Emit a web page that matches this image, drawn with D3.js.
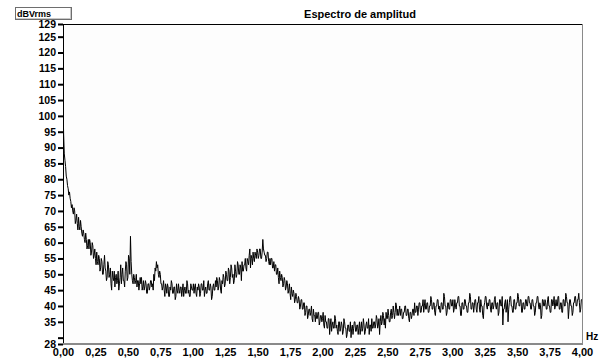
<!DOCTYPE html>
<html>
<head>
<meta charset="utf-8">
<script src="https://cdn.jsdelivr.net/npm/d3@7"></script>
<style>
  html, body { margin: 0; padding: 0; background: #ffffff; }
  svg { display: block; }
  text { font-family: "Liberation Sans", Arial, sans-serif; font-weight: bold; fill: #000; }
</style>
</head>
<body>
<svg id="chart" width="599" height="360"></svg>
<script>
// ---------------- data ----------------
const title = "Espectro de amplitud";
const yUnit = "dBVrms";
const xUnit = "Hz";
const freqStart = 0;
const freqStep = 0.005; // Hz between spectrum bins
const amplitude = [
  104, 94, 88, 86, 84, 81, 80, 78, 77, 75, 76, 74, 73, 71, 72, 70, 69, 71, 70, 66, 67, 69, 66, 64, 68, 65, 64, 67, 65, 63, 62, 64, 63, 61, 60, 63, 61, 58, 59, 61,
  58, 61, 60, 56, 57, 60, 59, 55, 56, 58, 55, 53, 57, 54, 53, 56, 55, 51, 52, 55, 54, 50, 50, 53, 56, 52, 51, 48, 49, 54, 53, 49, 50, 52, 47, 45, 51, 49, 48, 51,
  46, 49, 50, 47, 48, 51, 45, 47, 49, 53, 47, 50, 52, 48, 48, 46, 51, 54, 53, 48, 49, 56, 55, 50, 62, 54, 50, 48, 47, 50, 49, 47, 48, 50, 46, 48, 48, 45, 47, 49,
  47, 49, 45, 46, 48, 45, 46, 48, 47, 44, 44, 47, 47, 45, 46, 48, 48, 46, 47, 45, 50, 48, 52, 51, 54, 52, 53, 50, 49, 51, 50, 47, 47, 45, 46, 48, 45, 43, 47, 46,
  44, 47, 46, 43, 43, 46, 45, 48, 47, 44, 44, 46, 46, 42, 43, 47, 45, 44, 47, 45, 44, 46, 46, 43, 45, 47, 43, 45, 46, 44, 44, 48, 47, 44, 45, 43, 43, 47, 46, 45,
  45, 47, 44, 46, 47, 44, 43, 46, 45, 47, 46, 43, 44, 47, 47, 45, 45, 48, 43, 45, 46, 44, 44, 47, 48, 45, 45, 47, 46, 42, 43, 46, 47, 45, 45, 48, 46, 49, 48, 45,
  46, 49, 48, 45, 44, 48, 47, 50, 49, 46, 47, 51, 50, 48, 48, 52, 51, 47, 49, 53, 52, 49, 50, 47, 48, 53, 51, 49, 50, 54, 53, 50, 50, 53, 52, 48, 54, 51, 51, 53,
  53, 55, 52, 51, 55, 54, 53, 56, 58, 52, 56, 55, 53, 57, 55, 54, 57, 56, 55, 58, 57, 55, 56, 58, 58, 55, 55, 57, 61, 58, 57, 56, 56, 54, 55, 57, 57, 54, 53, 55,
  53, 55, 55, 52, 52, 54, 51, 53, 53, 50, 50, 52, 49, 47, 51, 49, 48, 50, 49, 46, 47, 49, 48, 45, 46, 48, 47, 44, 45, 47, 44, 42, 46, 44, 43, 45, 44, 41, 42, 44,
  43, 41, 41, 43, 42, 39, 40, 42, 42, 39, 39, 41, 41, 37, 38, 40, 40, 36, 37, 39, 39, 37, 38, 40, 36, 35, 39, 37, 37, 35, 38, 36, 36, 38, 38, 34, 35, 37, 37, 35,
  36, 38, 34, 33, 37, 35, 35, 33, 33, 36, 36, 31, 34, 36, 32, 34, 35, 33, 33, 37, 36, 33, 34, 32, 31, 35, 35, 32, 33, 35, 34, 31, 32, 36, 35, 33, 33, 30, 31, 34,
  34, 32, 32, 35, 30, 33, 34, 31, 33, 35, 35, 32, 32, 34, 34, 31, 33, 35, 31, 33, 35, 32, 33, 36, 34, 31, 32, 34, 35, 33, 33, 36, 31, 34, 34, 32, 36, 33, 33, 35,
  35, 33, 34, 37, 36, 33, 34, 36, 31, 35, 37, 34, 35, 38, 37, 34, 36, 33, 38, 36, 36, 39, 37, 35, 35, 38, 39, 36, 37, 40, 38, 36, 38, 41, 40, 37, 39, 37, 38, 40,
  37, 39, 39, 36, 36, 38, 38, 40, 40, 37, 37, 39, 39, 36, 35, 38, 38, 36, 37, 39, 39, 37, 41, 38, 38, 40, 40, 37, 39, 41, 41, 38, 38, 40, 40, 42, 38, 40, 42, 39,
  39, 41, 41, 38, 38, 40, 40, 43, 42, 39, 39, 41, 41, 38, 37, 40, 40, 42, 42, 39, 40, 38, 38, 41, 41, 39, 39, 44, 43, 40, 40, 37, 38, 41, 41, 39, 39, 42, 42, 40,
  40, 42, 38, 39, 42, 40, 39, 41, 41, 43, 43, 40, 40, 37, 37, 41, 41, 39, 39, 42, 42, 40, 40, 38, 38, 41, 41, 44, 43, 39, 39, 41, 41, 38, 40, 42, 42, 39, 38, 41,
  41, 43, 39, 38, 42, 40, 40, 37, 36, 40, 41, 43, 43, 40, 39, 41, 40, 42, 42, 39, 38, 41, 41, 39, 40, 42, 43, 40, 39, 41, 41, 37, 38, 42, 42, 40, 40, 43, 34, 39,
  39, 41, 42, 38, 40, 42, 35, 39, 41, 43, 43, 40, 40, 38, 38, 42, 42, 39, 39, 41, 41, 44, 43, 40, 40, 42, 42, 38, 38, 41, 41, 39, 39, 42, 42, 40, 40, 43, 43, 41,
  41, 39, 39, 42, 42, 40, 40, 37, 38, 41, 41, 43, 43, 40, 39, 41, 40, 36, 37, 42, 42, 40, 40, 42, 41, 39, 39, 42, 43, 40, 40, 38, 38, 42, 42, 40, 41, 43, 39, 40,
  42, 40, 40, 43, 43, 39, 39, 41, 41, 38, 38, 42, 42, 40, 40, 44, 43, 41, 41, 36, 39, 42, 42, 40, 40, 37, 38, 41, 41, 43, 43, 40, 40, 42, 42, 44, 41, 38, 39, 42,
  42
];
const xTicks = [0, 0.25, 0.5, 0.75, 1, 1.25, 1.5, 1.75, 2, 2.25, 2.5, 2.75, 3, 3.25, 3.5, 3.75, 4];
const yTicks = [129, 125, 120, 115, 110, 105, 100, 95, 90, 85, 80, 75, 70, 65, 60, 55, 50, 45, 40, 35, 30, 28];
const yLabelled = [129, 125, 120, 115, 110, 105, 100, 95, 90, 85, 80, 75, 70, 65, 60, 55, 50, 45, 40, 35, 28];
const xDomain = [0, 4];
const yDomain = [28, 129];

// ---------------- drawing ----------------
const svg = d3.select("#chart");
const L = 63, R = 582, T = 24, B = 344;

const x = d3.scaleLinear().domain(xDomain).range([L, R]);
const y = d3.scaleLinear().domain(yDomain).range([B, T]);

const points = amplitude.map((v, i) => ({ f: freqStart + i * freqStep, v }));

// plot background
svg.append("rect").attr("x", L).attr("y", T).attr("width", R - L).attr("height", B - T)
  .attr("fill", "#fdfdfd");

// clip
svg.append("clipPath").attr("id", "plotclip")
  .append("rect").attr("x", L).attr("y", T).attr("width", R - L).attr("height", B - T);

// trace
const line = d3.line().x(d => x(d.f)).y(d => y(d.v));
svg.append("path")
  .datum(points)
  .attr("clip-path", "url(#plotclip)")
  .attr("fill", "none")
  .attr("stroke", "#000")
  .attr("stroke-width", 1)
  .attr("stroke-linejoin", "miter")
  .attr("d", line);

// frame: top (black), right (gray)
svg.append("line").attr("x1", L).attr("x2", R + 1).attr("y1", T + 0.5).attr("y2", T + 0.5)
  .attr("stroke", "#000").attr("stroke-width", 1);
svg.append("line").attr("x1", R + 0.5).attr("x2", R + 0.5).attr("y1", T).attr("y2", B)
  .attr("stroke", "#8a8a8a").attr("stroke-width", 1);

// y axis
const yAxis = d3.axisLeft(y)
  .tickValues(yTicks)
  .tickSize(5)
  .tickPadding(2)
  .tickFormat(d => yLabelled.includes(d) ? String(d) : "");
const gy = svg.append("g").attr("transform", `translate(${L},0)`).call(yAxis);
gy.select(".domain").remove();
gy.selectAll(".tick line").attr("stroke", "#000").attr("stroke-width", 2);
gy.selectAll(".tick text").attr("font-size", 10.5).attr("font-weight", "bold")
  .attr("font-family", "Liberation Sans, Arial, sans-serif").attr("fill", "#000");
svg.append("line").attr("x1", L + 0.5).attr("x2", L + 0.5).attr("y1", T).attr("y2", B)
  .attr("stroke", "#000").attr("stroke-width", 1);

// x axis
const xAxis = d3.axisBottom(x)
  .tickValues(xTicks)
  .tickSize(0)
  .tickPadding(4)
  .tickFormat(d => d3.format(".2f")(d).replace(".", ","));
const gx = svg.append("g").attr("transform", `translate(0,${B})`).call(xAxis);
gx.select(".domain").remove();
gx.selectAll(".tick text").attr("font-size", 11).attr("font-weight", "bold")
  .attr("font-family", "Liberation Sans, Arial, sans-serif").attr("fill", "#000");
svg.append("line").attr("x1", L).attr("x2", R + 1).attr("y1", B).attr("y2", B)
  .attr("stroke", "#8a8a8a").attr("stroke-width", 2);

// title
svg.append("text").attr("x", 360).attr("y", 18).attr("text-anchor", "middle")
  .attr("font-size", 11).text(title);

// unit box top-left
svg.append("rect").attr("x", 15.5).attr("y", 7.5).attr("width", 56).attr("height", 12)
  .attr("fill", "#ffffff").attr("stroke", "#6e6e6e").attr("stroke-width", 1);
svg.append("line").attr("x1", 16).attr("x2", 71).attr("y1", 18.5).attr("y2", 18.5)
  .attr("stroke", "#c8c8c8");
svg.append("line").attr("x1", 70.5).attr("x2", 70.5).attr("y1", 8).attr("y2", 19)
  .attr("stroke", "#c8c8c8");
svg.append("text").attr("x", 17).attr("y", 16.5).attr("font-size", 9).text(yUnit);

// x unit
svg.append("text").attr("x", 586).attr("y", 340).attr("font-size", 10).text(xUnit);
</script>
</body>
</html>
